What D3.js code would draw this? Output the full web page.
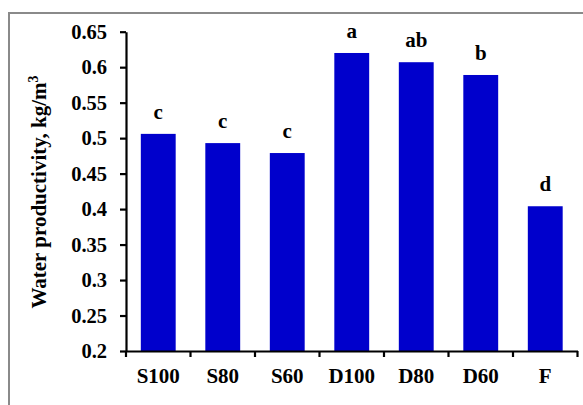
<!DOCTYPE html>
<html>
<head>
<meta charset="utf-8">
<script src="https://cdn.jsdelivr.net/npm/d3@7"></script>
<style>
  body { margin: 0; background: #fff; }
  text { font-family: "Liberation Serif", "Times New Roman", serif; font-weight: bold; fill: #000; }
</style>
</head>
<body>
<svg id="chart" width="583" height="405"></svg>
<script>
// Treatments and their water productivity (kg/m³)
const categories = ["S100", "S80", "S60", "D100", "D80", "D60", "F"];
const productivity = [0.506, 0.493, 0.479, 0.620, 0.607, 0.589, 0.404];
// Mean-separation letters shown above each bar
const groupLetters = ["c", "c", "c", "a", "ab", "b", "d"];
// Value axis ticks
const yTicks = [0.2, 0.25, 0.3, 0.35, 0.4, 0.45, 0.5, 0.55, 0.6, 0.65];
const yTickLabels = ["0.2", "0.25", "0.3", "0.35", "0.4", "0.45", "0.5", "0.55", "0.6", "0.65"];

const svg = d3.select("#chart");

// Outer chart frame (runs off the right and bottom edges)
svg.append("rect")
  .attr("x", 9).attr("y", 13)
  .attr("width", 640).attr("height", 440)
  .attr("fill", "none")
  .attr("stroke", "#8a8a8a")
  .attr("stroke-width", 2);

const plot = { left: 126, right: 577.5, top: 31.7, bottom: 351 };

const gap = 0.85 / 1.85;
const x = d3.scaleBand()
  .domain(categories)
  .range([plot.left, plot.right])
  .paddingInner(gap)
  .paddingOuter(gap / 2);

const y = d3.scaleLinear()
  .domain([0.2, 0.65])
  .range([plot.bottom, plot.top]);

// Bars
svg.append("g")
  .selectAll("rect")
  .data(categories)
  .join("rect")
  .attr("x", d => x(d))
  .attr("width", x.bandwidth())
  .attr("y", (d, i) => y(productivity[i]))
  .attr("height", (d, i) => y(0.2) - y(productivity[i]))
  .attr("fill", "#0000cc");

// Letters above bars
svg.append("g")
  .selectAll("text")
  .data(categories)
  .join("text")
  .attr("x", d => x(d) + x.bandwidth() / 2)
  .attr("y", (d, i) => y(productivity[i]) - 15)
  .attr("text-anchor", "middle")
  .style("font-size", "21px")
  .text((d, i) => groupLetters[i]);

// Y axis
const yAxis = svg.append("g")
  .attr("transform", `translate(${plot.left},0)`)
  .call(d3.axisLeft(y)
    .tickValues(yTicks)
    .tickFormat((d, i) => yTickLabels[i])
    .tickSize(6)
    .tickSizeOuter(0)
    .tickPadding(13));
yAxis.select(".domain").attr("stroke", "#000").attr("stroke-width", 2.2);
yAxis.selectAll(".tick line").attr("stroke", "#000").attr("stroke-width", 2.2);
yAxis.selectAll(".tick text")
  .style("font-size", "20.5px")
  .style("font-family", "'Liberation Serif', 'Times New Roman', serif")
  .style("font-weight", "bold")
  .attr("fill", "#000");

// X axis: category labels centred on bands
const xAxis = svg.append("g")
  .attr("transform", `translate(0,${plot.bottom})`)
  .call(d3.axisBottom(x).tickSize(0).tickSizeOuter(0).tickPadding(17));
xAxis.select(".domain").attr("stroke", "#000").attr("stroke-width", 2.2);
xAxis.selectAll(".tick text")
  .style("font-size", "21px")
  .style("font-family", "'Liberation Serif', 'Times New Roman', serif")
  .style("font-weight", "bold")
  .attr("fill", "#000");

// Tick marks at the category boundaries
const step = x.step();
const boundaries = categories.map(c => x(c) + x.bandwidth() / 2 - step / 2)
  .concat([x(categories[categories.length - 1]) + x.bandwidth() / 2 + step / 2]);
svg.append("g")
  .selectAll("line")
  .data(boundaries)
  .join("line")
  .attr("x1", d => d).attr("x2", d => d)
  .attr("y1", plot.bottom).attr("y2", plot.bottom + 6)
  .attr("stroke", "#000")
  .attr("stroke-width", 2.2);

// Y axis title
const title = svg.append("text")
  .attr("transform", `translate(46,192) rotate(-90)`)
  .attr("text-anchor", "middle")
  .style("font-size", "21px");
title.append("tspan").text("Water productivity, kg/m");
title.append("tspan")
  .attr("dy", -8)
  .style("font-size", "14px")
  .text("3");
</script>
</body>
</html>
